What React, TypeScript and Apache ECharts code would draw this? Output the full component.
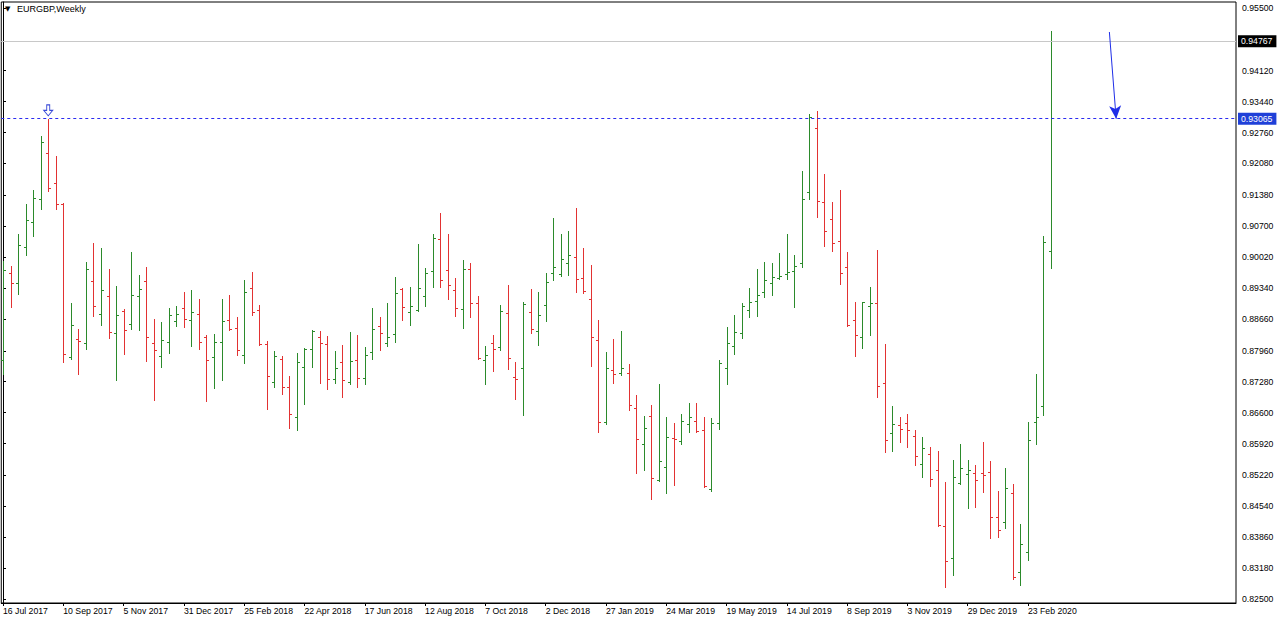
import React, { useEffect, useRef } from "react";
import * as echarts from "echarts";

const symbolName = "EURGBP,Weekly";
const firstWeekUTC = Date.UTC(2017, 6, 16);
const totalSlots = 164;

const opens = [
  0.87756, 0.8967, 0.8945, 0.90242, 0.90792, 0.91298, 0.9231, 0.9165, 0.91188, 0.87822,
  0.88218, 0.8813, 0.89494, 0.88768, 0.89164, 0.8835, 0.88834, 0.88548, 0.89164, 0.89494,
  0.8813, 0.87844, 0.88152, 0.88614, 0.889, 0.88636, 0.88768, 0.88262, 0.87822, 0.88152,
  0.88636, 0.8846, 0.87866, 0.8934, 0.88856, 0.88108, 0.87272, 0.87778, 0.87162, 0.86502,
  0.87602, 0.87998, 0.88262, 0.88108, 0.87338, 0.87712, 0.87272, 0.87756, 0.8736, 0.87932,
  0.88504, 0.8813, 0.88328, 0.89318, 0.88812, 0.88856, 0.89164, 0.89714, 0.90418, 0.89736,
  0.89296, 0.88878, 0.89758, 0.8901, 0.87756, 0.8813, 0.88042, 0.8879, 0.87382, 0.8758,
  0.88812, 0.88394, 0.88966, 0.8967, 0.89648, 0.8989, 0.90022, 0.8956, 0.89098, 0.88196,
  0.86392, 0.87536, 0.8747, 0.8747, 0.867, 0.85908, 0.86524, 0.85116, 0.85402, 0.8604,
  0.85974, 0.86348, 0.86414, 0.86216, 0.84918, 0.8637, 0.8758, 0.88064, 0.8835, 0.88856,
  0.89054, 0.89252, 0.8945, 0.8956, 0.89648, 0.89714, 0.8989, 0.91452, 0.9286, 0.91232,
  0.90858, 0.90374, 0.89802, 0.88636, 0.88262, 0.88944, 0.8901, 0.8725, 0.8615, 0.86326,
  0.8637, 0.86084, 0.85468, 0.85688, 0.85336, 0.84104, 0.834, 0.8505, 0.85248, 0.8527,
  0.8527, 0.85292, 0.84302, 0.84192, 0.8483, 0.83092, 0.83532, 0.86392, 0.86744, 0.90154,
];

const highs = [
  0.89934, 0.89824, 0.90528, 0.91188, 0.91496, 0.92684, 0.93065, 0.92244, 0.9121, 0.8901,
  0.88438, 0.89912, 0.9033, 0.9022, 0.89758, 0.89384, 0.88878, 0.90132, 0.89626, 0.89802,
  0.88658, 0.88592, 0.889, 0.88944, 0.89252, 0.89296, 0.89098, 0.88306, 0.88328, 0.89098,
  0.89186, 0.88702, 0.89516, 0.89692, 0.88966, 0.88174, 0.87954, 0.87844, 0.87404, 0.8791,
  0.8802, 0.88416, 0.88394, 0.88284, 0.87954, 0.88086, 0.88372, 0.88306, 0.88042, 0.889,
  0.88702, 0.8901, 0.89582, 0.8934, 0.89362, 0.90308, 0.8978, 0.90528, 0.9099, 0.90528,
  0.8956, 0.89956, 0.8989, 0.89164, 0.88064, 0.88306, 0.88966, 0.89406, 0.87712, 0.89032,
  0.89318, 0.89252, 0.8967, 0.9088, 0.90528, 0.90594, 0.911, 0.9022, 0.89846, 0.88636,
  0.87932, 0.88218, 0.88394, 0.87668, 0.86986, 0.86524, 0.86766, 0.87228, 0.86502, 0.8637,
  0.86568, 0.8681, 0.8681, 0.86502, 0.8648, 0.87756, 0.88482, 0.88746, 0.8901, 0.8934,
  0.89758, 0.89912, 0.8989, 0.9011, 0.90528, 0.90066, 0.91914, 0.93168, 0.93234, 0.91848,
  0.91232, 0.91496, 0.90132, 0.89032, 0.89032, 0.89362, 0.90176, 0.88108, 0.86744, 0.86502,
  0.86568, 0.86216, 0.86062, 0.85842, 0.85754, 0.85072, 0.85556, 0.85908, 0.85556, 0.85446,
  0.85952, 0.85534, 0.84874, 0.8538, 0.85028, 0.84148, 0.86392, 0.87448, 0.90484, 0.94994,
];

const lows = [
  0.87448, 0.88922, 0.89208, 0.90066, 0.90484, 0.91078, 0.91474, 0.91078, 0.87712, 0.87778,
  0.87448, 0.87998, 0.88724, 0.88526, 0.8824, 0.87316, 0.87888, 0.88438, 0.88416, 0.87734,
  0.86876, 0.87602, 0.8791, 0.88504, 0.88482, 0.88064, 0.87998, 0.86854, 0.8714, 0.87316,
  0.88416, 0.87866, 0.8769, 0.88746, 0.88086, 0.86678, 0.87162, 0.87008, 0.8626, 0.86216,
  0.86788, 0.87602, 0.8725, 0.87118, 0.8725, 0.86942, 0.87228, 0.87162, 0.87228, 0.87778,
  0.87976, 0.88064, 0.88152, 0.88636, 0.88526, 0.88834, 0.88944, 0.89362, 0.89362, 0.89098,
  0.88724, 0.8846, 0.88702, 0.87778, 0.87228, 0.87514, 0.87976, 0.87558, 0.86898, 0.86546,
  0.8835, 0.88086, 0.88614, 0.89516, 0.89604, 0.89626, 0.89252, 0.8923, 0.87624, 0.86172,
  0.86348, 0.8725, 0.87426, 0.86656, 0.8527, 0.85336, 0.84698, 0.85094, 0.8483, 0.85006,
  0.85908, 0.86172, 0.86172, 0.84962, 0.84874, 0.86238, 0.87228, 0.87888, 0.8824, 0.88702,
  0.88724, 0.89142, 0.89186, 0.89538, 0.89538, 0.88922, 0.89802, 0.91298, 0.90902, 0.90264,
  0.90154, 0.89428, 0.88504, 0.87844, 0.88016, 0.88306, 0.86942, 0.85732, 0.85754, 0.85952,
  0.85842, 0.85446, 0.85182, 0.84984, 0.84104, 0.82762, 0.83026, 0.85028, 0.845, 0.84522,
  0.84852, 0.8384, 0.83862, 0.8406, 0.82938, 0.82806, 0.83356, 0.85908, 0.86546, 0.8978,
];

const closes = [
  0.89736, 0.8945, 0.90286, 0.90836, 0.9132, 0.92552, 0.9154, 0.91188, 0.87888, 0.88526,
  0.88174, 0.89758, 0.88944, 0.89296, 0.88372, 0.88746, 0.88416, 0.89186, 0.89318, 0.88262,
  0.87976, 0.88196, 0.88746, 0.88768, 0.88658, 0.88812, 0.88152, 0.87756, 0.88152, 0.88614,
  0.88438, 0.87976, 0.89252, 0.88812, 0.88108, 0.87404, 0.87844, 0.87162, 0.86568, 0.87712,
  0.87998, 0.88394, 0.8813, 0.87338, 0.8758, 0.87316, 0.87734, 0.8736, 0.87866, 0.88438,
  0.8835, 0.88262, 0.8923, 0.88922, 0.88944, 0.8934, 0.8967, 0.9044, 0.89516, 0.89406,
  0.889, 0.89758, 0.8901, 0.878, 0.87866, 0.87998, 0.88834, 0.878, 0.87338, 0.88988,
  0.88438, 0.88746, 0.89472, 0.89802, 0.89978, 0.90066, 0.89538, 0.89274, 0.88262, 0.86392,
  0.8758, 0.87448, 0.8758, 0.86766, 0.86018, 0.8626, 0.8516, 0.85534, 0.86062, 0.86018,
  0.86414, 0.86502, 0.86194, 0.84984, 0.8637, 0.8769, 0.8813, 0.88372, 0.88944, 0.89032,
  0.89186, 0.89516, 0.89582, 0.89604, 0.89692, 0.89824, 0.91298, 0.93102, 0.91254, 0.90594,
  0.9033, 0.8967, 0.88526, 0.88306, 0.89032, 0.8901, 0.87184, 0.85996, 0.86348, 0.86238,
  0.86216, 0.85644, 0.8582, 0.85138, 0.84126, 0.83334, 0.85182, 0.8538, 0.85336, 0.85116,
  0.85226, 0.84302, 0.84016, 0.8494, 0.82982, 0.83708, 0.85996, 0.86502, 0.90352, 0.94767,
];

const yTickValues = [
  0.955, 0.9412, 0.9344, 0.9276, 0.9208, 0.9138, 0.907, 0.9002, 0.8934, 0.8866,
  0.8796, 0.8728, 0.866, 0.8592, 0.8522, 0.8454, 0.8386, 0.8318, 0.825,
];
const xTickIndices = [0, 8, 16, 24, 32, 40, 48, 56, 64, 72, 80, 88, 96, 104, 112, 120, 128, 136];

const lastPrice = 0.94767;
const levelPrice = 0.93065;
const markerBar = 6;
const markerPrice = 0.93249;
const trendStart = [146.8, 0.94972];
const trendEnd = [147.7, 0.93065];

const yMin = 0.82412;
const yMax = 0.95632;
const xMin = -0.23;
const xMax = 163.6;

const MONTHS = ["Jan", "Feb", "Mar", "Apr", "May", "Jun", "Jul", "Aug", "Sep", "Oct", "Nov", "Dec"];
const weekLabel = (i: number) => {
  const d = new Date(firstWeekUTC + i * 7 * 86400000);
  return `${d.getUTCDate()} ${MONTHS[d.getUTCMonth()]} ${d.getUTCFullYear()}`;
};
const categories = Array.from({ length: totalSlots }, (_, i) => weekLabel(i));

const UP = "#2b8a2b";
const DOWN = "#e23232";
const FONT = "'Liberation Sans', Arial, sans-serif";

export default function App() {
  const ref = useRef<HTMLDivElement>(null);
  useEffect(() => {
    if (!ref.current) return;
    const chart = echarts.init(ref.current, undefined, { renderer: "svg" });
    const rows = opens.map((o, i) => [i, o, highs[i], lows[i], closes[i]]);
    const priceLabel = (bg: string) => ({
      show: true,
      position: "end",
      distance: 2,
      formatter: (p: any) => Number(p.value).toFixed(5),
      color: "#fff",
      backgroundColor: bg,
      padding: [2, 4, 1, 3],
      fontSize: 8.7,
      fontFamily: FONT,
    });
    const hLine = (value: number, color: string, type: any, bg: string) => ({
      type: "line",
      data: [],
      silent: true,
      markLine: {
        silent: true,
        animation: false,
        precision: 5,
        symbol: ["none", "none"],
        lineStyle: { color, width: 1, type, opacity: 1 },
        label: priceLabel(bg),
        data: [{ yAxis: value }],
      },
    });
    const option: any = {
      animation: false,
      backgroundColor: "#ffffff",
      textStyle: { fontFamily: FONT },
      grid: {
        left: 1,
        right: 44,
        top: 2,
        bottom: 19,
        show: true,
        borderColor: "#000",
        borderWidth: 1,
        backgroundColor: "#fff",
      },
      xAxis: {
        type: "value",
        min: xMin,
        max: xMax,
        splitLine: { show: false },
        axisLine: { show: true, lineStyle: { color: "#000" } },
        axisTick: { show: true, customValues: xTickIndices, length: 3, lineStyle: { color: "#000" } },
        axisLabel: {
          customValues: xTickIndices,
          formatter: (v: number) => categories[Math.round(v)],
          align: "left",
          margin: 3,
          fontSize: 8.7,
          color: "#000",
          fontFamily: FONT,
        },
      },
      yAxis: {
        type: "value",
        position: "right",
        min: yMin,
        max: yMax,
        splitLine: { show: false },
        axisLine: { show: true, lineStyle: { color: "#000" } },
        axisTick: { show: true, customValues: yTickValues, length: 3, lineStyle: { color: "#000" } },
        axisLabel: {
          customValues: yTickValues,
          formatter: (v: number) => v.toFixed(5),
          margin: 6,
          fontSize: 8.7,
          color: "#000",
          fontFamily: FONT,
        },
      },
      graphic: [
        {
          type: "text",
          left: 5,
          top: 5,
          style: { text: "▼", fontSize: 7, fill: "#000", fontFamily: "'DejaVu Sans', sans-serif" },
        },
        {
          type: "text",
          left: 17,
          top: 4,
          style: { text: symbolName, fontSize: 9, fill: "#000", fontFamily: FONT },
        },
      ],
      series: [
        hLine(lastPrice, "#c8c8c8", "solid", "#000"),
        hLine(levelPrice, "#2b2bf0", [3, 3], "#1f40d8"),
        {
          type: "custom",
          clip: true,
          data: rows,
          encode: { x: 0, y: [1, 2, 3, 4] },
          renderItem: (params: any, api: any) => {
            const i = api.value(0);
            const o = api.value(1);
            const h = api.value(2);
            const l = api.value(3);
            const c = api.value(4);
            const pH = api.coord([i, h]);
            const pL = api.coord([i, l]);
            const pO = api.coord([i, o]);
            const pC = api.coord([i, c]);
            const x = Math.round(pH[0]) + 0.5;
            const yO = Math.round(pO[1]) + 0.5;
            const yC = Math.round(pC[1]) + 0.5;
            const color = c >= o ? UP : DOWN;
            const st = { stroke: color, lineWidth: 1 };
            return {
              type: "group",
              children: [
                { type: "line", shape: { x1: x, y1: Math.round(pH[1]), x2: x, y2: Math.round(pL[1]) + 1 }, style: st },
                { type: "line", shape: { x1: x - 2.5, y1: yO, x2: x - 0.5, y2: yO }, style: st },
                { type: "line", shape: { x1: x + 0.5, y1: yC, x2: x + 2.5, y2: yC }, style: st },
              ],
            };
          },
        },
        {
          type: "line",
          data: [],
          silent: true,
          markLine: {
            silent: true,
            animation: false,
            precision: 5,
            symbol: ["none", "arrow"],
            symbolSize: [9, 13],
            lineStyle: { color: "#1f2ee8", width: 1, type: "solid" },
            label: { show: false },
            data: [[{ coord: trendStart }, { coord: trendEnd }]],
          },
          markPoint: {
            silent: true,
            animation: false,
            symbol: "path://M3,0 L6,0 L6,6 L9,6 L4.5,12 L0,6 L3,6 Z",
            symbolSize: [9, 11],
            itemStyle: { color: "#ffffff", borderColor: "#3a4ad8", borderWidth: 1 },
            label: { show: false },
            data: [{ coord: [markerBar, markerPrice] }],
          },
        },
      ],
    };
    chart.setOption(option);
    return () => chart.dispose();
  }, []);
  return (
    <div
      ref={ref}
      style={{ position: "absolute", left: 0, top: 0, width: 1280, height: 622, background: "#fff" }}
    />
  );
}
